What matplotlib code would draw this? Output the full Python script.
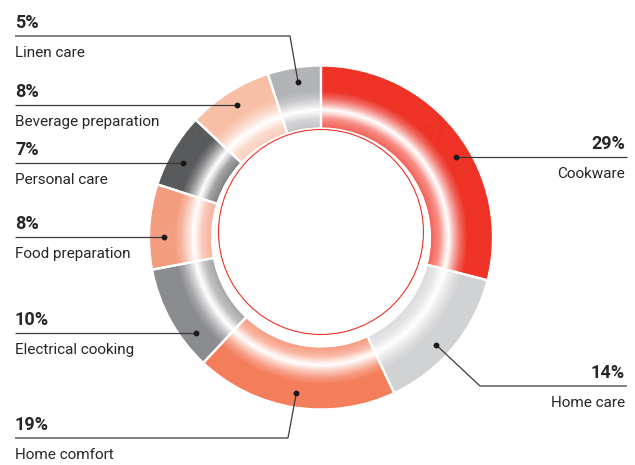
import numpy as np
import matplotlib
matplotlib.use("Agg")
import matplotlib.pyplot as plt
from matplotlib.patches import Circle

# ---- data ----
categories = ["Cookware", "Home care", "Home comfort", "Electrical cooking",
              "Food preparation", "Personal care", "Beverage preparation", "Linen care"]
shares = [29, 14, 19, 10, 8, 7, 8, 5]
pct_labels = ["29%", "14%", "19%", "10%", "8%", "7%", "8%", "5%"]
colors = ["#EE3124", "#D1D2D4", "#F47D5A", "#8A8B8F",
          "#F49C7E", "#58595B", "#F8BFA6", "#B2B3B6"]

# ---- layout (pixel coordinates, y measured from top) ----
W, H = 635, 465
CX, CY = 321, 237.5
R_OUT, R_IN = 171, 110
R_DOT = 157
# side, label-line y, elbow x (None = straight line), anchor angle (deg, for elbows)
layout = [
    ("right", 157, None, None),
    ("right", 386, 480, -43),
    ("left", 438, 288, -99),
    ("left", 333, None, None),
    ("left", 237, None, None),
    ("left", 163, None, None),
    ("left", 105, None, None),
    ("left", 36, 290, 98.4),
]
LEFT_X, RIGHT_X = 15, 627

def Y(y):
    return H - y

fig = plt.figure(figsize=(W / 100, H / 100), dpi=100)
ax = fig.add_axes([0, 0, 1, 1])

# radial gradient: band colours blended with white
n_bands = 90
edges = np.linspace(R_IN, R_OUT, n_bands + 1)
mids = 0.5 * (edges[:-1] + edges[1:])
wfrac = np.interp(mids, [R_IN, 119, 125, 128, 133, 140, 147, R_OUT],
                  [0.22, 0.45, 0.85, 1.0, 0.65, 0.25, 0.0, 0.0])
base = np.array([matplotlib.colors.to_rgb(c) for c in colors])
for k in range(n_bands):
    r_outer = edges[k + 1]
    width = edges[k + 1] - edges[k]
    band_cols = base * (1 - wfrac[k]) + wfrac[k]
    ax.pie(shares, radius=r_outer + 0.3, center=(CX, Y(CY)), startangle=90,
           counterclock=False, colors=[tuple(c) for c in band_cols],
           wedgeprops=dict(width=width + 0.6, edgecolor="none", linewidth=0))

# white separators
ax.pie(shares, radius=R_OUT + 1, center=(CX, Y(CY)), startangle=90, counterclock=False,
       colors=["none"] * len(shares),
       wedgeprops=dict(width=R_OUT - R_IN + 2, edgecolor="white", linewidth=1.6, fill=False))

# thin red inner circle
ax.add_patch(Circle((CX, Y(232)), 102.5, fill=False, edgecolor="#EE3124", linewidth=0.8))

FONT = ["Roboto", "DejaVu Sans"]
TXT = "#262626"
LINE = "#3A3A3C"

for cat, pct, (side, ly, ex, ang) in zip(categories, pct_labels, layout):
    if ex is None:
        dy = ly - CY
        dx = np.sqrt(R_DOT ** 2 - dy ** 2)
        dxp = CX + dx if side == "right" else CX - dx
        dyp = ly
    else:
        a = np.deg2rad(ang)
        dxp = CX + R_DOT * np.cos(a)
        dyp = CY - R_DOT * np.sin(a)
    if side == "left":
        xs = [LEFT_X, ex if ex is not None else dxp, dxp]
        tx, ha = LEFT_X, "left"
    else:
        xs = [RIGHT_X, ex if ex is not None else dxp, dxp]
        tx, ha = RIGHT_X - 2, "right"
    ys = [ly, ly, dyp]
    ax.plot(xs, [Y(v) for v in ys], color=LINE, linewidth=0.9, solid_capstyle="butt")
    ax.plot([dxp], [Y(dyp)], "o", color="#1A1A1A", markersize=3.2)
    ax.text(tx, Y(ly - 8), pct, ha=ha, va="baseline", fontsize=13,
            fontweight="bold", color=TXT, family=FONT)
    ax.text(tx, Y(ly + 21), cat, ha=ha, va="baseline", fontsize=11,
            color=TXT, family=FONT)

ax.set_xlim(0, W)
ax.set_ylim(0, H)
ax.set_aspect("equal")
ax.axis("off")
fig.savefig("out.png", dpi=100, facecolor="white")
